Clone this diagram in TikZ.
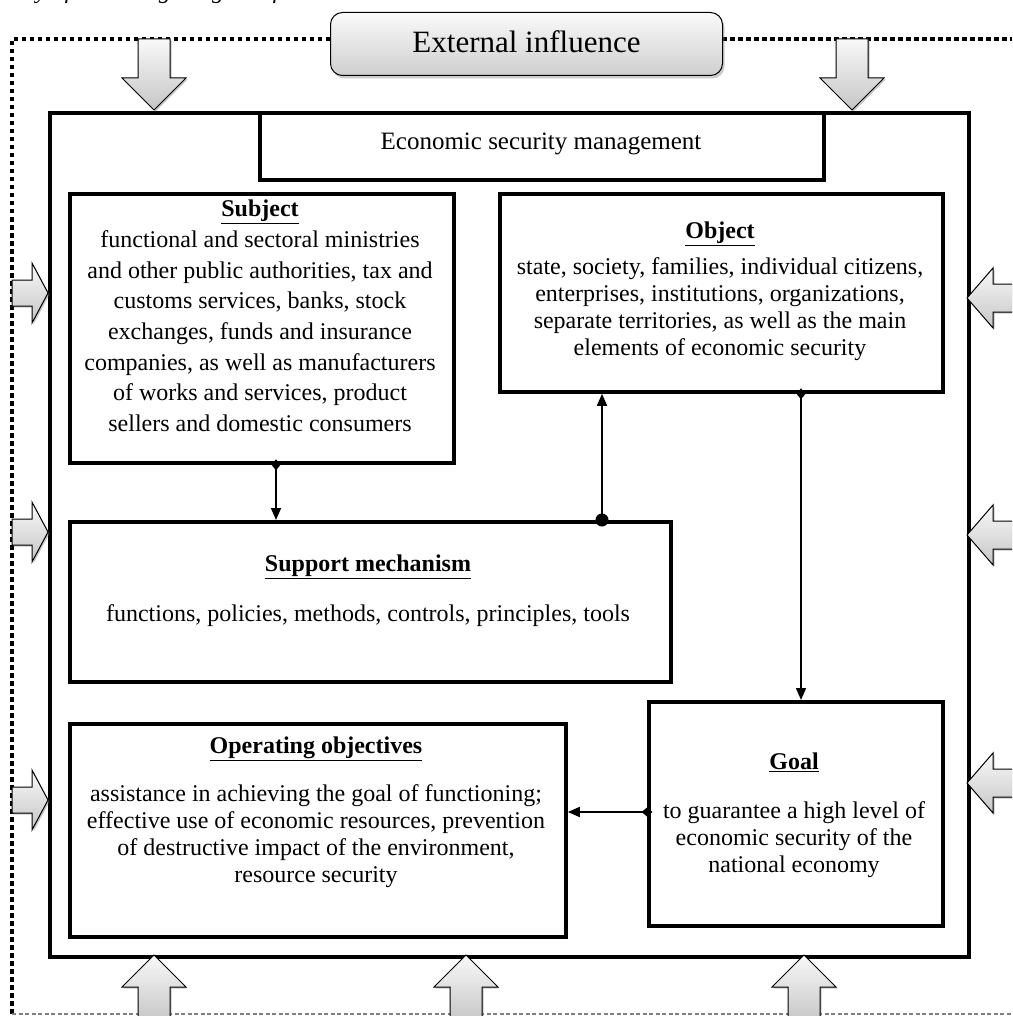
\documentclass[tikz,border=0pt]{standalone}
\usepackage{fontspec}
\setmainfont{Liberation Serif}
\usetikzlibrary{arrows.meta,shadows}
\newcommand\BAtop[1]{\path[blockarrow] (#1-16,39) -- (#1+16,39) -- (#1+16,78) -- (#1+32,78) -- (#1,110) -- (#1-32,78) -- (#1-16,78) -- cycle;}
\newcommand\BAbot[1]{\path[blockarrow] (#1,955) -- (#1+32,987) -- (#1+16,987) -- (#1+16,1022) -- (#1-16,1022) -- (#1-16,987) -- (#1-32,987) -- cycle;}
\newcommand\BAleft[1]{\path[blockarrow] (12,#1-13) -- (32,#1-13) -- (32,#1-30) -- (48,#1) -- (32,#1+30) -- (32,#1+13) -- (12,#1+13) -- cycle;}
\newcommand\BAright[1]{\path[blockarrow] (1016,#1-14) -- (993,#1-14) -- (993,#1-30) -- (967,#1) -- (993,#1+30) -- (993,#1+14) -- (1016,#1+14) -- cycle;}
\begin{document}
\begin{tikzpicture}[x=1pt,y=-1pt,
  box/.style={draw, line width=3.8pt, anchor=north west, inner sep=0pt},
  txt/.style={align=center, font=\fontsize{24}{27}\selectfont, inner sep=0pt},
  conn/.style={line width=1.6pt},
  blockarrow/.style={draw=black, line width=1pt, top color=gray!5, bottom color=gray!45,
     drop shadow={shadow xshift=1.5pt, shadow yshift=-1.5pt, opacity=0.45}},
  border/.style={line width=3.5pt, dash pattern=on 4.5pt off 3.5pt},
  tip/.style={-{Triangle[length=12pt,width=10pt]}}
]
\clip (0,0) rectangle (1012,1016);
\fill[white] (0,0) rectangle (1012,1016);

% clipped caption line at the very top
\node[anchor=base west, inner sep=0pt, font=\itshape\fontsize{24}{24}\selectfont] (toptext) at (8,-1) {way of achieving the goal of normal state};

% outer dotted frame
\draw[border] (330,39) -- (12,39) -- (12,1016);
\draw[border] (722,39) -- (1012,39);
\draw[gray, line width=1.2pt, dash pattern=on 4pt off 2.5pt] (12,1014) -- (1012,1014);

% main frame and boxes
\node[box, minimum width=919pt, minimum height=844pt] (main) at (48,111) {};
\node[box, minimum width=564pt, minimum height=67pt] (esm) at (258,111) {};
\node[box, minimum width=384pt, minimum height=269pt] (subj) at (68,192) {};
\node[box, minimum width=443pt, minimum height=198pt] (obj) at (498,192) {};
\node[box, minimum width=601pt, minimum height=160pt] (supp) at (68,520) {};
\node[box, minimum width=496pt, minimum height=213pt] (op) at (68,722) {};
\node[box, minimum width=294pt, minimum height=224pt] (goal) at (647,700) {};

% texts
\node[txt, font=\fontsize{25}{27}\selectfont] (esmt) at (541,144) {Economic security management};
\node[txt, font=\fontsize{24}{30.7}\selectfont] (subjt) at (260,316) {\underline{\textbf{Subject}}\\
functional and sectoral ministries\\
and other public authorities, tax and\\
customs services, banks, stock\\
exchanges, funds and insurance\\
companies, as well as manufacturers\\
of works and services, product\\
sellers and domestic consumers};
\node[txt] (objt) at (720,291) {\underline{\textbf{Object}}\\[9pt]
state, society, families, individual citizens,\\
enterprises, institutions, organizations,\\
separate territories, as well as the main\\
elements of economic security};
\node[txt] (suppt) at (368,591) {\underline{\textbf{Support mechanism}}\\[23pt]
functions, policies, methods, controls, principles, tools};
\node[txt] (opt) at (316,812) {\underline{\textbf{Operating objectives}}\\[21pt]
assistance in achieving the goal of functioning;\\
effective use of economic resources, prevention\\
of destructive impact of the environment,\\
resource security};
\node[txt] (goalt) at (794,815) {\underline{\textbf{Goal}}\\[22pt]
to guarantee a high level of\\
economic security of the\\
national economy};

% block arrows (external influence)
\BAtop{154}
\BAtop{852}
\BAbot{154}
\BAbot{466}
\BAbot{804}
\BAleft{293}
\BAleft{532}
\BAleft{800}
\BAright{298}
\BAright{535}
\BAright{783}

\node[draw, line width=1pt, rounded corners=12pt, top color=gray!4, bottom color=gray!38,
  minimum width=392pt, minimum height=63pt, anchor=north west,
  drop shadow={opacity=0.4, shadow xshift=2pt, shadow yshift=-3pt},
  font=\fontsize{31}{31}\selectfont] (ext) at (330,12) {\raisebox{5pt}{External influence}};

% connectors
\coordinate (x276) at (276,0);
\coordinate (x602) at (602,0);
\coordinate (x801) at (801,0);
\coordinate (y812) at (0,812);
\draw[conn, {Diamond[length=11pt,width=9pt]}-{Triangle[length=12pt,width=10pt]}, shorten <=-5.5pt]
  (subj.south -| x276) -- (supp.north -| x276);
\draw[conn, {Circle[length=13pt]}-{Triangle[length=12pt,width=10pt]}, shorten <=-6.5pt]
  (supp.north -| x602) -- (obj.south -| x602);
\draw[conn, {Diamond[length=11pt,width=9pt]}-{Triangle[length=12pt,width=10pt]}, shorten <=-5.5pt]
  (obj.south -| x801) -- (goal.north -| x801);
\draw[conn, {Diamond[length=11pt,width=9pt]}-{Triangle[length=12pt,width=10pt]}, shorten <=-5.5pt]
  (goal.west |- y812) -- (op.east |- y812);
\end{tikzpicture}
\end{document}
